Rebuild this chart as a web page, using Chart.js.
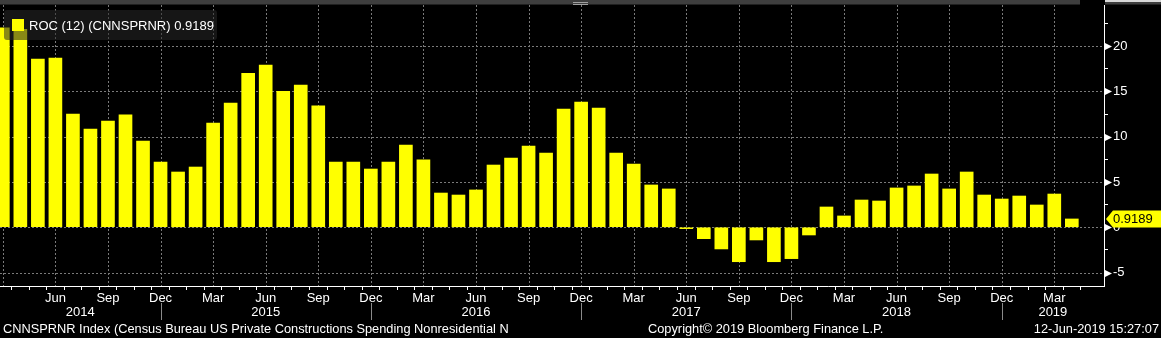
<!DOCTYPE html>
<html>
<head>
<meta charset="utf-8">
<script src="https://cdn.jsdelivr.net/npm/chart.js@4.4.1/dist/chart.umd.min.js"></script>
<style>
  html, body { margin: 0; padding: 0; background: #000; overflow: hidden; }
  canvas { display: block; }
</style>
</head>
<body>
<canvas id="rocChart" width="1161" height="338"></canvas>
<script>
// Monthly categories, Mar 2014 .. Apr 2019
const months = [
    'Mar 2014', 'Apr 2014', 'May 2014', 'Jun 2014', 'Jul 2014', 'Aug 2014', 'Sep 2014', 'Oct 2014', 'Nov 2014', 'Dec 2014',
    'Jan 2015', 'Feb 2015', 'Mar 2015', 'Apr 2015', 'May 2015', 'Jun 2015', 'Jul 2015', 'Aug 2015', 'Sep 2015', 'Oct 2015', 'Nov 2015', 'Dec 2015',
    'Jan 2016', 'Feb 2016', 'Mar 2016', 'Apr 2016', 'May 2016', 'Jun 2016', 'Jul 2016', 'Aug 2016', 'Sep 2016', 'Oct 2016', 'Nov 2016', 'Dec 2016',
    'Jan 2017', 'Feb 2017', 'Mar 2017', 'Apr 2017', 'May 2017', 'Jun 2017', 'Jul 2017', 'Aug 2017', 'Sep 2017', 'Oct 2017', 'Nov 2017', 'Dec 2017',
    'Jan 2018', 'Feb 2018', 'Mar 2018', 'Apr 2018', 'May 2018', 'Jun 2018', 'Jul 2018', 'Aug 2018', 'Sep 2018', 'Oct 2018', 'Nov 2018', 'Dec 2018',
    'Jan 2019', 'Feb 2019', 'Mar 2019', 'Apr 2019'
];

// ROC (12) values
const rocValues = [
    22.0, 21.85, 18.57, 18.68, 12.5, 10.85, 11.73, 12.4, 9.52, 7.2,
    6.1, 6.65, 11.5, 13.7, 17.0, 17.9, 15.0, 15.7, 13.4, 7.2, 7.2, 6.43,
    7.2, 9.08, 7.43, 3.78, 3.56, 4.12, 6.87, 7.65, 8.97, 8.2, 13.05, 13.82,
    13.16, 8.2, 6.98, 4.67, 4.23, -0.15, -1.26, -2.39, -3.8, -1.4, -3.8, -3.46,
    -0.85, 2.24, 1.25, 3.01, 2.9, 4.34, 4.56, 5.88, 4.23, 6.1, 3.56, 3.12,
    3.45, 2.46, 3.67, 0.9189
];

const quarterMonths = ['Mar', 'Jun', 'Sep', 'Dec'];
const yMajorTicks = [-5, 0, 5, 10, 15, 20];
const yMinorTicks = [-2.5, 2.5, 7.5, 12.5, 17.5, 22.5];

const seriesName = 'ROC (12) (CNNSPRNR)';
const footerLeft = 'CNNSPRNR Index (Census Bureau US Private Constructions Spending Nonresidential N';
const footerMid = 'Copyright\u00A9 2019 Bloomberg Finance L.P.';
const footerRight = '12-Jun-2019 15:27:07';

const GRID_GRAY = '#7a7a7a';
const CLEAR = 'rgba(0,0,0,0)';
const FAMILY = '"Liberation Sans", Arial, sans-serif';
const FONT = '13px ' + FAMILY;

Chart.defaults.font.family = FAMILY;
Chart.defaults.font.size = 13;
Chart.defaults.color = '#ffffff';

function isQuarter(i) {
    return months[i] !== undefined && quarterMonths.includes(months[i].slice(0, 3));
}

// dotted grid behind the bars
const dottedGrid = {
    id: 'dottedGrid',
    beforeDatasetsDraw(chart) {
        const ctx = chart.ctx;
        const area = chart.chartArea;
        const xs = chart.scales.x;
        const ys = chart.scales.y;
        ctx.save();
        ctx.strokeStyle = GRID_GRAY;
        ctx.lineWidth = 1;
        ctx.setLineDash([2, 2]);
        months.forEach((m, i) => {
            if (!isQuarter(i)) return;
            const px = Math.round(xs.getPixelForValue(i)) + 0.5;
            if (px < area.left || px > area.right) return;
            ctx.beginPath();
            ctx.moveTo(px, area.top);
            ctx.lineTo(px, area.bottom);
            ctx.stroke();
        });
        yMajorTicks.forEach(v => {
            const py = Math.round(ys.getPixelForValue(v)) + 0.5;
            ctx.beginPath();
            ctx.moveTo(area.left, py);
            ctx.lineTo(area.right, py);
            ctx.stroke();
        });
        ctx.restore();
    }
};

// extra drawing: top strip, tick flags, year row, legend box, last value flag, footer
const bloombergDecor = {
    id: 'bloombergDecor',
    afterDraw(chart) {
        const ctx = chart.ctx;
        const area = chart.chartArea;
        const xs = chart.scales.x;
        const ys = chart.scales.y;
        ctx.save();

        // top window strip
        ctx.fillStyle = '#3e3e3e';
        ctx.fillRect(0, 0, chart.width, 4);
        ctx.fillStyle = '#202020';
        ctx.fillRect(0, 4, chart.width, 1);
        ctx.fillStyle = '#a0a0a0';
        ctx.fillRect(573, 2, 15, 1);
        ctx.fillRect(573, 4, 15, 1);
        ctx.fillStyle = '#000';
        ctx.fillRect(1080, 0, 25, 5);
        ctx.fillStyle = '#d8d8d8';
        ctx.fillRect(1105, 0, 56, 2);

        // little flags on the major y ticks
        ctx.fillStyle = '#ffffff';
        yMajorTicks.forEach(v => {
            const py = Math.round(ys.getPixelForValue(v)) + 0.5;
            ctx.beginPath();
            ctx.moveTo(area.right + 1, py - 3.5);
            ctx.lineTo(area.right + 8, py);
            ctx.lineTo(area.right + 1, py + 3.5);
            ctx.closePath();
            ctx.fill();
        });

        // year row with separators at December
        const decIdx = [];
        months.forEach((m, i) => { if (m.startsWith('Dec')) decIdx.push(i); });
        const years = [...new Set(months.map(m => m.slice(4)))];
        ctx.font = FONT;
        ctx.textAlign = 'center';
        ctx.textBaseline = 'middle';
        years.forEach((yr, k) => {
            const start = k === 0 ? area.left : xs.getPixelForValue(decIdx[k - 1]);
            const end = k < decIdx.length ? xs.getPixelForValue(decIdx[k]) : area.right;
            ctx.fillStyle = '#ffffff';
            ctx.fillText(yr, (Math.max(start, area.left) + Math.min(end, area.right)) / 2, 312);
        });
        ctx.strokeStyle = '#8a8a8a';
        ctx.lineWidth = 1;
        decIdx.forEach(i => {
            const px = Math.round(xs.getPixelForValue(i)) + 0.5;
            ctx.beginPath();
            ctx.moveTo(px, 303);
            ctx.lineTo(px, 320);
            ctx.stroke();
        });

        // legend box (translucent, over the bars)
        ctx.fillStyle = 'rgba(40,40,40,0.55)';
        ctx.beginPath();
        ctx.roundRect(4, 10, 213, 30, 3);
        ctx.fill();
        ctx.fillStyle = '#ffff00';
        ctx.fillRect(12, 19, 12, 12);
        ctx.fillStyle = '#ffffff';
        ctx.textAlign = 'left';
        const last = rocValues[rocValues.length - 1];
        ctx.fillText(seriesName + ' ' + last, 29, 26);

        // last value flag on the axis
        const ly = ys.getPixelForValue(last);
        ctx.fillStyle = '#ffff00';
        ctx.beginPath();
        ctx.moveTo(area.right + 2, ly);
        ctx.lineTo(area.right + 9, ly - 8.5);
        ctx.lineTo(chart.width, ly - 8.5);
        ctx.lineTo(chart.width, ly + 8.5);
        ctx.lineTo(area.right + 9, ly + 8.5);
        ctx.closePath();
        ctx.fill();
        ctx.fillStyle = '#000';
        ctx.fillText(String(last), area.right + 9, ly + 0.5);

        // footer
        ctx.fillStyle = '#ffffff';
        ctx.font = '12.8px ' + FAMILY;
        ctx.fillText(footerLeft, 3, 329.5);
        ctx.fillText(footerMid, 648, 329.5);
        ctx.textAlign = 'right';
        ctx.fillText(footerRight, 1159, 329.5);

        ctx.restore();
    }
};

new Chart(document.getElementById('rocChart'), {
    type: 'bar',
    data: {
        datasets: [{
            label: seriesName,
            data: rocValues.map((v, i) => ({ x: i, y: v })),
            backgroundColor: '#ffff00',
            borderWidth: 0,
            barThickness: 13
        }]
    },
    options: {
        responsive: false,
        animation: false,
        devicePixelRatio: 1,
        layout: { padding: { top: 5, left: 0, right: 0, bottom: 0 } },
        plugins: {
            legend: { display: false },
            tooltip: { enabled: false }
        },
        scales: {
            x: {
                type: 'linear',
                min: 0.355,
                max: 62.32,
                afterBuildTicks: s => {
                    s.ticks = months.map((m, i) => ({ value: i })).filter(t => t.value >= s.min && t.value <= s.max);
                },
                afterFit: s => {
                    s.height = 52;
                    s.paddingLeft = 0;
                    s.paddingRight = 0;
                },
                ticks: {
                    autoSkip: false,
                    maxRotation: 0,
                    minRotation: 0,
                    padding: 1,
                    color: '#ffffff',
                    callback: v => isQuarter(v) ? months[v].slice(0, 3) : ''
                },
                grid: {
                    drawOnChartArea: false,
                    tickColor: '#ffffff',
                    tickLength: 4
                },
                border: { color: '#ffffff', width: 1 }
            },
            y: {
                position: 'right',
                min: -6.48,
                max: 24.53,
                afterBuildTicks: s => {
                    s.ticks = yMajorTicks.concat(yMinorTicks).sort((a, b) => a - b).map(v => ({ value: v }));
                },
                afterFit: s => {
                    s.width = 57;
                    s.paddingTop = 0;
                    s.paddingBottom = 0;
                },
                ticks: {
                    padding: 5,
                    color: '#ffffff',
                    callback: v => yMajorTicks.includes(v) ? String(v) : ''
                },
                grid: {
                    drawOnChartArea: false,
                    tickColor: c => (c.tick && yMajorTicks.includes(c.tick.value)) ? CLEAR : '#ffffff',
                    tickLength: 4
                },
                border: { color: '#ffffff', width: 1 }
            }
        }
    },
    plugins: [dottedGrid, bloombergDecor]
});
</script>
</body>
</html>
